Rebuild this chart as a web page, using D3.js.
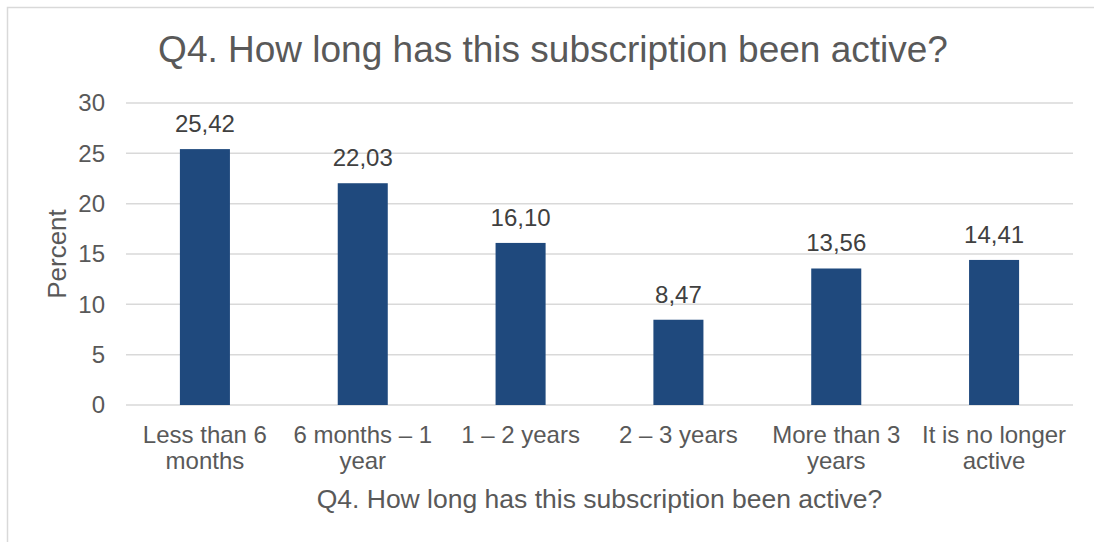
<!DOCTYPE html>
<html>
<head>
<meta charset="utf-8">
<script src="https://cdn.jsdelivr.net/npm/d3@7"></script>
<style>
  html, body { margin: 0; padding: 0; background: #fff; }
  svg { display: block; font-family: "Liberation Sans", Arial, sans-serif; }
</style>
</head>
<body>
<svg id="chart" width="1094" height="542"></svg>
<script>
// Survey responses: duration of subscription
const categories = [
  ["Less than 6", "months"],
  ["6 months \u2013 1", "year"],
  ["1 \u2013 2 years"],
  ["2 \u2013 3 years"],
  ["More than 3", "years"],
  ["It is no longer", "active"]
];
const values = [25.42, 22.03, 16.10, 8.47, 13.56, 14.41];
const yTicks = [0, 5, 10, 15, 20, 25, 30];
const titleText = "Q4. How long has this subscription been active?";
const xTitleText = "Q4. How long has this subscription been active?";
const yTitleText = "Percent";

const svg = d3.select("#chart");
const W = 1094, H = 542;
const plot = { left: 126, right: 1073, top: 103, bottom: 405 };

// chart frame
svg.append("rect")
  .attr("x", 7.5).attr("y", 7.5)
  .attr("width", W + 10).attr("height", H + 10)
  .attr("fill", "#fff").attr("stroke", "#d9d9d9").attr("stroke-width", 1.5);

const x = d3.scaleBand()
  .domain(d3.range(values.length))
  .range([plot.left, plot.right])
  .paddingInner(0.683).paddingOuter(0.3415);

const y = d3.scaleLinear().domain([0, 30]).range([plot.bottom, plot.top]);

// gridlines
svg.append("g").selectAll("line").data(yTicks).join("line")
  .attr("x1", plot.left).attr("x2", plot.right)
  .attr("y1", d => y(d)).attr("y2", d => y(d))
  .attr("stroke", "#d9d9d9").attr("stroke-width", 1.5);

// y tick labels
svg.append("g").selectAll("text").data(yTicks).join("text")
  .attr("x", 105).attr("y", d => y(d))
  .attr("dy", "0.35em")
  .attr("text-anchor", "end")
  .attr("font-size", 24).attr("fill", "#595959")
  .text(d => d);

// bars
svg.append("g").selectAll("rect").data(values).join("rect")
  .attr("x", (d, i) => x(i))
  .attr("width", x.bandwidth())
  .attr("y", d => y(d))
  .attr("height", d => y(0) - y(d))
  .attr("fill", "#1f497d");

// value labels
const fmt = v => v.toFixed(2).replace(".", ",");
svg.append("g").selectAll("text").data(values).join("text")
  .attr("x", (d, i) => x(i) + x.bandwidth() / 2)
  .attr("y", d => y(d) - 17)
  .attr("text-anchor", "middle")
  .attr("font-size", 24).attr("fill", "#404040")
  .text(d => fmt(d));

// category labels
const cat = svg.append("g").selectAll("text").data(categories).join("text")
  .attr("x", (d, i) => x(i) + x.bandwidth() / 2)
  .attr("y", 443)
  .attr("text-anchor", "middle")
  .attr("font-size", 24).attr("fill", "#595959");
cat.selectAll("tspan").data(d => d).join("tspan")
  .attr("x", function () { return d3.select(this.parentNode).attr("x"); })
  .attr("dy", (d, j) => j === 0 ? 0 : 26)
  .text(d => d);

// chart title
svg.append("text")
  .attr("x", 553).attr("y", 62)
  .attr("text-anchor", "middle")
  .attr("font-size", 37).attr("fill", "#595959")
  .text(titleText);

// axis titles
svg.append("text")
  .attr("x", (plot.left + plot.right) / 2).attr("y", 508)
  .attr("text-anchor", "middle")
  .attr("font-size", 26.5).attr("fill", "#595959")
  .text(xTitleText);

svg.append("text")
  .attr("transform", `translate(66, ${(plot.top + plot.bottom) / 2}) rotate(-90)`)
  .attr("text-anchor", "middle")
  .attr("font-size", 26).attr("fill", "#595959")
  .text(yTitleText);
</script>
</body>
</html>
